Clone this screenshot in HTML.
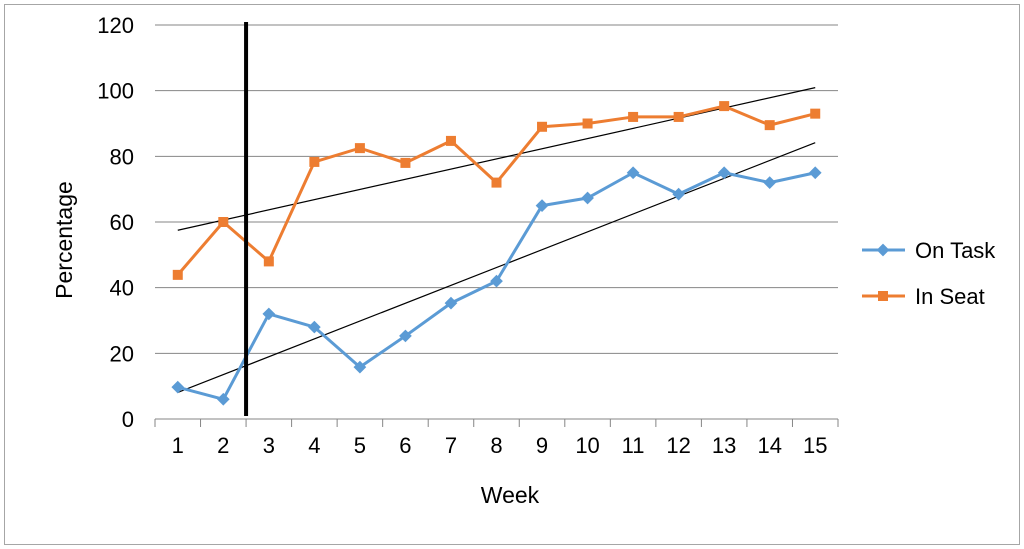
<!DOCTYPE html>
<html><head><meta charset="utf-8"><style>
html,body{margin:0;padding:0;background:#fff;}
svg{display:block;font-family:"Liberation Sans",Calibri,sans-serif;}
</style></head><body>
<svg id="chart" width="1024" height="549">
<rect x="4.5" y="4.5" width="1015" height="540" fill="#fff" stroke="#a6a6a6"/>
<g id="grid"></g><g id="axes"></g><g id="trends"></g><g id="series"></g>
<text x="72" y="240" font-size="23" text-anchor="middle" transform="rotate(-90 72 240)">Percentage</text>
<text x="510" y="503" font-size="23" text-anchor="middle">Week</text>
<g>
<g>
<line x1="862" y1="250" x2="905" y2="250" stroke="#5b9bd5" stroke-width="3"/>
<rect x="878.5" y="245.5" width="9" height="9" fill="#5b9bd5" transform="rotate(45 883 250)"/>
<text x="915" y="258" font-size="22">On Task</text></g>
<g>
<line x1="862" y1="296" x2="905" y2="296" stroke="#ed7d31" stroke-width="3"/>
<rect x="878" y="291" width="10" height="10" fill="#ed7d31"/>
<text x="915" y="304" font-size="22">In Seat</text></g>
</g>
</svg>
<script>
const weeks=[1,2,3,4,5,6,7,8,9,10,11,12,13,14,15];
const onTask=[9.7,6,32,28,15.8,25.3,35.3,42,65,67.3,75,68.5,75,72,75];
const inSeat=[43.9,60,48,78.3,82.5,78,84.7,72,89,90,92,92,95.3,89.5,93];
const yTicks=[0,20,40,60,80,100,120];
const phaseChangeAfter=2.5;
const NS="http://www.w3.org/2000/svg";
const L=155,R=838,T=25,B=419;
const step=(R-L)/weeks.length;
const x=w=>L+step*(w-0.5);
const y=v=>B-(v/120)*(B-T);
function mk(tag,attrs,parent){const e=document.createElementNS(NS,tag);for(const k in attrs)e.setAttribute(k,attrs[k]);parent.appendChild(e);return e;}
const grid=document.getElementById('grid'),axes=document.getElementById('axes'),trends=document.getElementById('trends'),series=document.getElementById('series');
yTicks.forEach(t=>{
 if(t>0){const g=mk('line',{x1:L,x2:R,y1:y(t),y2:y(t),stroke:'#868686','stroke-width':1},grid);
 
 }
 const tx=mk('text',{x:134,y:y(t)+8,'font-size':22,'text-anchor':'end'},axes);tx.textContent=t;
 
 
});
const xa=mk('line',{x1:L,x2:R,y1:B,y2:B,stroke:'#868686','stroke-width':1},axes);


for(let i=0;i<=weeks.length;i++){mk('line',{x1:L+step*i,x2:L+step*i,y1:B,y2:B+8,stroke:'#868686'},axes);}
weeks.forEach(w=>{const tx=mk('text',{x:x(w),y:B+34,'font-size':22,'text-anchor':'middle'},axes);tx.textContent=w;
 
 });
function reg(vals){const n=vals.length;let sx=0,sy=0,sxy=0,sxx=0;weeks.forEach((w,i)=>{sx+=w;sy+=vals[i];sxy+=w*vals[i];sxx+=w*w;});const m=(n*sxy-sx*sy)/(n*sxx-sx*sx);return [m,(sy-m*sx)/n];}
[[onTask,'trendline-on-task'],[inSeat,'trendline-in-seat']].forEach(([v,n])=>{const [m,b]=reg(v);const w0=weeks[0],w1=weeks[weeks.length-1];
 const l=mk('line',{x1:x(w0),y1:y(m*w0+b),x2:x(w1),y2:y(m*w1+b),stroke:'#000','stroke-width':1.2},trends);
 
 });
function draw(vals,color,name,shape){const pts=weeks.map((w,i)=>x(w)+','+y(vals[i])).join(' ');
 const p=mk('polyline',{points:pts,fill:'none',stroke:color,'stroke-width':3,'stroke-linejoin':'round'},series);
 
 
 weeks.forEach((w,i)=>{let m;const cx=x(w),cy=y(vals[i]);
  if(shape==='d')m=mk('rect',{x:cx-4.5,y:cy-4.5,width:9,height:9,fill:color,transform:`rotate(45 ${cx} ${cy})`},series);
  else m=mk('rect',{x:cx-5,y:cy-5,width:10,height:10,fill:color},series);
  
  });}
draw(inSeat,'#ed7d31','in-seat','s');
draw(onTask,'#5b9bd5','on-task','d');
const ph=mk('line',{x1:x(phaseChangeAfter),x2:x(phaseChangeAfter),y1:22,y2:416,stroke:'#000','stroke-width':4},series);


</script>
</body></html>
